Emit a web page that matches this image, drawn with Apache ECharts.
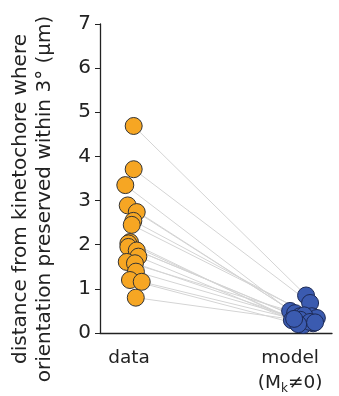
<!DOCTYPE html>
<html><head><meta charset="utf-8">
<script src="https://cdn.jsdelivr.net/npm/echarts@6/dist/echarts.min.js"></script>
<style>html,body{margin:0;padding:0;background:#fff}#c{width:339px;height:396px}</style>
</head><body><div id="c"></div>
<script>
const categories = ['data', 'model'];
const yTicks = [0,1,2,3,4,5,6,7];
const dataValues = [4.69,3.71,3.35,2.89,2.74,2.54,2.45,2.06,2.03,1.95,1.87,1.73,1.61,1.58,1.39,1.20,1.16,0.80];
const dataJitter = [0.029,0.029,-0.023,-0.008,0.048,0.027,0.017,0.006,-0.004,-0.004,0.048,0.058,-0.014,0.037,0.043,0.006,0.079,0.042];
const modelValues = [0.85,0.68,0.50,0.45,0.38,0.38,0.34,0.29,0.27,0.27,0.22,0.18,0.40,0.30,0.25,0.20,0.32,0.24];
const modelJitter = [0.099,0.124,0,0.031,0.062,0.135,0.166,0.011,0.042,0.104,0.143,0.081,0.087,0.062,0.124,0.050,0.025,0.155];

const dataPts = dataValues.map((v,i)=>[1+dataJitter[i], v]);
const modelPts = modelValues.map((v,i)=>[2+modelJitter[i], v]);
const pairs = dataPts.map((p,i)=>({coords:[p, modelPts[i]]}));

const font = 'DejaVu Sans';
const chart = echarts.init(document.getElementById('c'));
chart.setOption({
  animation:false,
  grid:{left:100,right:7,top:24,bottom:61},
  xAxis:{type:'value',min:0.82,max:2.26,
    axisLine:{show:true,lineStyle:{color:'#222',width:1.3}},
    axisTick:{show:false},splitLine:{show:false},
    axisLabel:{customValues:[1,2],margin:13,color:'#222',fontFamily:font,fontSize:18.5,lineHeight:25,
      formatter:function(v){return v<1.5?categories[0]:'model\n(M{s|k}≠0)';},
      rich:{s:{fontSize:12,fontFamily:font,color:'#222',padding:[10,0,0,0]}}}},
  yAxis:{type:'value',min:0,max:7,interval:1,
    axisLine:{show:true,lineStyle:{color:'#222',width:1.3}},
    axisTick:{show:true,inside:false,length:5,lineStyle:{color:'#222'}},
    splitLine:{show:false},
    axisLabel:{margin:9,color:'#222',fontFamily:font,fontSize:20,
      formatter:function(v){return yTicks.indexOf(v)>=0?String(v):'';}}},
  graphic:[{type:'text',x:33,y:199,rotation:Math.PI/2,
    style:{text:'distance from kinetochore where\norientation preserved within 3° (μm)',
      fill:'#222',font:'20px "DejaVu Sans"',align:'center',verticalAlign:'middle',lineHeight:24}}],
  series:[
    {type:'lines',coordinateSystem:'cartesian2d',data:pairs,z:1,
      lineStyle:{color:'#d4d4d4',width:1,opacity:1}},
    {type:'scatter',data:modelPts,symbolSize:17,z:2,
      itemStyle:{color:'#3b5bb0',borderColor:'#1d2a55',borderWidth:1,opacity:1}},
    {type:'scatter',data:dataPts,symbolSize:17,z:3,
      itemStyle:{color:'#f6a623',borderColor:'#333',borderWidth:1,opacity:1}}
  ]
});
</script></body></html>
